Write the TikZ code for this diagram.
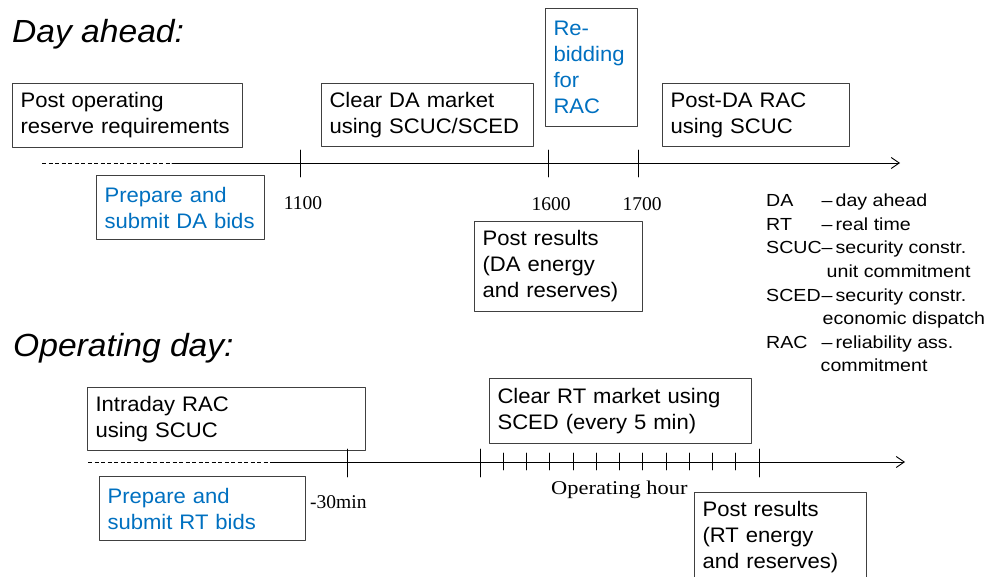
\documentclass[tikz,border=0pt]{standalone}
\usepackage{fontspec}
\usetikzlibrary{arrows.meta}
\setmainfont{Liberation Serif}
\setsansfont{Liberation Sans}
\newfontfamily\boxfamily[FakeStretch=1.05]{Liberation Sans}
\newfontfamily\legendfamily[FakeStretch=1.12]{Liberation Sans}
\newfontfamily\hourfamily[FakeStretch=1.15]{Liberation Serif}
\newcommand\boxfont{\boxfamily\fontsize{21}{26}\selectfont\hyphenpenalty=10000\relax}
\newcommand\titlefont{\boxfamily\itshape\fontsize{32}{38}\selectfont}
\newcommand\legendfont{\legendfamily\fontsize{17.5}{23.6}\selectfont}
\newcommand\timefont{\fontsize{19.5}{22}\selectfont}
\definecolor{bidblue}{RGB}{0,112,192}
\definecolor{boxgray}{RGB}{64,64,64}
\begin{document}
\begin{tikzpicture}[>={Straight Barb[length=8pt,width=11pt]},x=1pt,y=-1pt,line join=round,line cap=round,
    evbox/.style={draw=boxgray,line width=1.1pt,anchor=north west,align=left,
      inner xsep=8pt,inner ysep=0pt,font=\boxfont},
    bidbox/.style={evbox,text=bidblue},
    timelab/.style={inner sep=0pt,font=\timefont},
    pastline/.style={dash pattern=on 4pt off 2.5pt,line width=0.8pt,line cap=butt}]
  \useasboundingbox (0,0) rectangle (989,577);
  \clip (0,0) rectangle (989,577);
  % day ahead
  \node[anchor=base west,inner sep=0pt,font=\titlefont] (dahead) at (12,43) {Day ahead:};
  \node[evbox,text width=214pt,minimum height=64pt] (postreq) at (12,83) {Post operating\\reserve requirements};
  \node[evbox,text width=196pt,minimum height=63pt] (clearda) at (321,83) {Clear DA market\\using SCUC/SCED};
  \node[bidbox,text width=76pt,minimum height=118pt] (rebid) at (545,8) {Re-\\bidding\\for\\RAC};
  \node[evbox,text width=171pt,minimum height=63pt] (postrac) at (662,83) {Post-DA RAC\\using SCUC};
  \node[bidbox,text width=152pt,minimum height=64pt] (prepda) at (96,175) {Prepare and\\submit DA bids};
  \node[evbox,text width=152pt,minimum height=90pt] (postda) at (474,221) {Post results\\(DA energy\\and reserves)};
  \coordinate (dastart) at (42,163);
  \coordinate (dasolid) at (172,163);
  \coordinate (daend) at (900,163);
  \draw[pastline] (dastart) -- (dasolid);
  \draw[->,line width=0.9pt] (dasolid) -- (daend);
  \foreach \t in {300,548,638} \draw[line width=0.9pt] (\t,150) -- (\t,177);
  \node[timelab,anchor=base] (t1100) at (303,210) {1100};
  \node[timelab,anchor=base] (t1600) at (551,211) {1600};
  \node[timelab,anchor=base] (t1700) at (642,211) {1700};
  % abbreviations
  \node[anchor=base west,inner sep=0pt,font=\legendfont] (legend) at (766,206.7) {%
    \begin{tabular}[t]{@{}l@{\hspace{0pt}}l@{}}
      DA & –\hspace{3pt}day ahead\\
      RT & –\hspace{3pt}real time\\
      SCUC & –\hspace{3pt}security constr.\\
       & \hspace{5pt}unit commitment\\
      SCED & –\hspace{3pt}security constr.\\
       & \hspace{1pt}economic dispatch\\
      RAC & –\hspace{3pt}reliability ass.\\
       & \hspace{-1pt}commitment
    \end{tabular}};
  % operating day
  \node[anchor=base west,inner sep=0pt,font=\titlefont] (opday) at (13,357) {Operating day:};
  \node[evbox,text width=262pt,minimum height=63pt] (intraday) at (87,387) {Intraday RAC\\using SCUC};
  \node[bidbox,text width=190pt,minimum height=64pt] (preprt) at (99,476) {Prepare and\\submit RT bids};
  \node[evbox,text width=246pt,minimum height=65pt] (clearrt) at (489,378) {Clear RT market using\\SCED (every 5 min)};
  \node[evbox,text width=156pt,minimum height=90pt] (postrt) at (694,492) {Post results\\(RT energy\\and reserves)};
  \coordinate (odstart) at (88,462);
  \coordinate (odsolid) at (272,462);
  \coordinate (odend) at (905,462);
  \draw[pastline] (odstart) -- (odsolid);
  \draw[->,line width=0.9pt] (odsolid) -- (odend);
  \foreach \t in {347,480,759} \draw[line width=0.9pt] (\t,449) -- (\t,477);
  \foreach \i in {1,...,11} \draw[line width=0.8pt] ({480+23.25*\i},453) -- ({480+23.25*\i},470);
  \node[timelab,anchor=base west] (t30) at (310,508) {-30min};
  \node[timelab,anchor=base west,font=\hourfamily\timefont] (ophour) at (551,495) {Operating hour};
\end{tikzpicture}
\end{document}
